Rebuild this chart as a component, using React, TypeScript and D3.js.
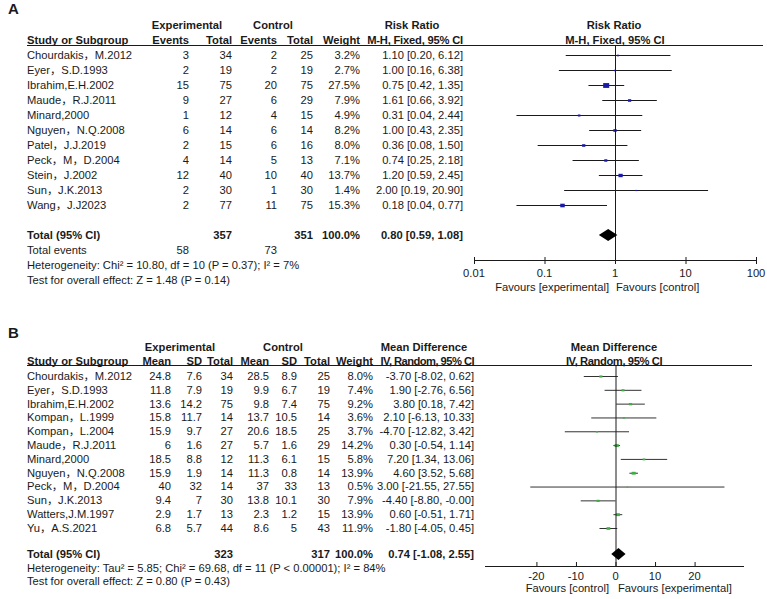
import React from "react";
import * as d3 from "d3";

// ---- Panel A: risk ratio data ----
const studiesA = [
  "Chourdakis，M.2012",
  "Eyer，S.D.1993",
  "Ibrahim,E.H.2002",
  "Maude，R.J.2011",
  "Minard,2000",
  "Nguyen，N.Q.2008",
  "Patel，J.J.2019",
  "Peck，M，D.2004",
  "Stein，J.2002",
  "Sun，J.K.2013",
  "Wang，J.J2023",
];
const expEventsA = [3, 2, 15, 9, 1, 6, 2, 4, 12, 2, 2];
const expTotalA = [34, 19, 75, 27, 12, 14, 15, 14, 40, 30, 77];
const ctrlEventsA = [2, 2, 20, 6, 4, 6, 6, 5, 10, 1, 11];
const ctrlTotalA = [25, 19, 75, 29, 15, 14, 16, 13, 40, 30, 75];
const weightA = [3.2, 2.7, 27.5, 7.9, 4.9, 8.2, 8.0, 7.1, 13.7, 1.4, 15.3];
const rrA = [1.1, 1.0, 0.75, 1.61, 0.31, 1.0, 0.36, 0.74, 1.2, 2.0, 0.18];
const rrLowA = [0.2, 0.16, 0.42, 0.66, 0.04, 0.43, 0.08, 0.25, 0.59, 0.19, 0.04];
const rrHighA = [6.12, 6.38, 1.35, 3.92, 2.44, 2.35, 1.5, 2.18, 2.45, 20.9, 0.77];
const totalA = { exp: 357, ctrl: 351, eventsExp: 58, eventsCtrl: 73, rr: 0.8, low: 0.59, high: 1.08 };
const ticksA = [0.01, 0.1, 1, 10, 100];

// ---- Panel B: mean difference data ----
const studiesB = [
  "Chourdakis，M.2012",
  "Eyer，S.D.1993",
  "Ibrahim,E.H.2002",
  "Kompan，L.1999",
  "Kompan，L.2004",
  "Maude，R.J.2011",
  "Minard,2000",
  "Nguyen，N.Q.2008",
  "Peck，M，D.2004",
  "Sun，J.K.2013",
  "Watters,J.M.1997",
  "Yu，A.S.2021",
];
const expMeanB = [24.8, 11.8, 13.6, 15.8, 15.9, 6, 18.5, 15.9, 40, 9.4, 2.9, 6.8];
const expSdB = [7.6, 7.9, 14.2, 11.7, 9.7, 1.6, 8.8, 1.9, 32, 7, 1.7, 5.7];
const expTotalB = [34, 19, 75, 14, 27, 27, 12, 14, 14, 30, 13, 44];
const ctrlMeanB = [28.5, 9.9, 9.8, 13.7, 20.6, 5.7, 11.3, 11.3, 37, 13.8, 2.3, 8.6];
const ctrlSdB = [8.9, 6.7, 7.4, 10.5, 18.5, 1.6, 6.1, 0.8, 33, 10.1, 1.2, 5];
const ctrlTotalB = [25, 19, 75, 14, 25, 29, 15, 14, 13, 30, 15, 43];
const weightB = [8.0, 7.4, 9.2, 3.6, 3.7, 14.2, 5.8, 13.9, 0.5, 7.9, 13.9, 11.9];
const mdB = [-3.7, 1.9, 3.8, 2.1, -4.7, 0.3, 7.2, 4.6, 3.0, -4.4, 0.6, -1.8];
const mdLowB = [-8.02, -2.76, 0.18, -6.13, -12.82, -0.54, 1.34, 3.52, -21.55, -8.8, -0.51, -4.05];
const mdHighB = [0.62, 6.56, 7.42, 10.33, 3.42, 1.14, 13.06, 5.68, 27.55, -0.0, 1.71, 0.45];
const totalB = { exp: 323, ctrl: 317, md: 0.74, low: -1.08, high: 2.55 };
const ticksB = [-20, -10, 0, 10, 20];

const FONT = "'Liberation Sans', Arial, 'Noto Sans CJK SC', sans-serif";
const INK = "#1a1a1a";
const BLUE = "#1a1aa6";
const GREEN = "#3cb043";

const f2 = (v: number) => (Object.is(v, -0) ? "-0.00" : v.toFixed(2));
const ci = (e: number, l: number, h: number) => `${f2(e)} [${f2(l)}, ${f2(h)}]`;

const T = (props: any) => (
  <text fontFamily={FONT} fontSize={11.2} fill={INK} dy="0.35em" {...props} />
);

const diamond = (x: (v: number) => number, y: number, l: number, m: number, h: number) =>
  `M${x(l)},${y} L${x(m)},${y - 6} L${x(h)},${y} L${x(m)},${y + 6} Z`;

function PanelA() {
  const y = d3.scalePoint<string>().domain(studiesA).range([55, 205]);
  const x = d3.scaleLog().domain([0.01, 100]).range([474, 756]);
  const side = (w: number) => Math.max(1.5, 1.15 * Math.sqrt(w));
  const yTot = 235;
  const yAxis = 260;
  return (
    <g>
      <T x={8} y={9} fontSize={15} fontWeight="bold">A</T>
      <T x={187} y={25} textAnchor="middle" fontWeight="bold">Experimental</T>
      <T x={273} y={25} textAnchor="middle" fontWeight="bold">Control</T>
      <T x={412} y={25} textAnchor="middle" fontWeight="bold">Risk Ratio</T>
      <T x={614} y={25} textAnchor="middle" fontWeight="bold">Risk Ratio</T>
      <T x={27} y={40} fontWeight="bold">Study or Subgroup</T>
      <T x={189} y={40} textAnchor="end" fontWeight="bold">Events</T>
      <T x={232} y={40} textAnchor="end" fontWeight="bold">Total</T>
      <T x={277} y={40} textAnchor="end" fontWeight="bold">Events</T>
      <T x={313} y={40} textAnchor="end" fontWeight="bold">Total</T>
      <T x={360} y={40} textAnchor="end" fontWeight="bold">Weight</T>
      <T x={463} y={40} textAnchor="end" fontWeight="bold" letterSpacing={-0.2}>M-H, Fixed, 95% CI</T>
      <T x={615} y={40} textAnchor="middle" fontWeight="bold">M-H, Fixed, 95% CI</T>
      <line x1={27} x2={763} y1={45.5} y2={45.5} stroke={INK} />
      {studiesA.map((s, i) => {
        const yy = y(s)!;
        const sz = side(weightA[i]);
        return (
          <g key={s}>
            <T x={27} y={yy}>{s}</T>
            <T x={189} y={yy} textAnchor="end">{expEventsA[i]}</T>
            <T x={232} y={yy} textAnchor="end">{expTotalA[i]}</T>
            <T x={277} y={yy} textAnchor="end">{ctrlEventsA[i]}</T>
            <T x={313} y={yy} textAnchor="end">{ctrlTotalA[i]}</T>
            <T x={360} y={yy} textAnchor="end">{weightA[i].toFixed(1)}%</T>
            <T x={463} y={yy} textAnchor="end">{ci(rrA[i], rrLowA[i], rrHighA[i])}</T>
            <line x1={x(rrLowA[i])} x2={x(rrHighA[i])} y1={yy + 0.5} y2={yy + 0.5} stroke={INK} />
            <rect x={x(rrA[i]) - sz / 2} y={yy + 0.5 - sz * 0.4} width={sz} height={sz * 0.8} fill={BLUE} />
          </g>
        );
      })}
      <T x={27} y={yTot} fontWeight="bold">Total (95% CI)</T>
      <T x={232} y={yTot} textAnchor="end" fontWeight="bold">{totalA.exp}</T>
      <T x={313} y={yTot} textAnchor="end" fontWeight="bold">{totalA.ctrl}</T>
      <T x={360} y={yTot} textAnchor="end" fontWeight="bold">100.0%</T>
      <T x={463} y={yTot} textAnchor="end" fontWeight="bold">{ci(totalA.rr, totalA.low, totalA.high)}</T>
      <T x={27} y={250}>Total events</T>
      <T x={189} y={250} textAnchor="end">{totalA.eventsExp}</T>
      <T x={277} y={250} textAnchor="end">{totalA.eventsCtrl}</T>
      <T x={27} y={265}>Heterogeneity: Chi² = 10.80, df = 10 (P = 0.37); I² = 7%</T>
      <T x={27} y={280}>Test for overall effect: Z = 1.48 (P = 0.14)</T>
      <line x1={x(1) + 0.5} x2={x(1) + 0.5} y1={46} y2={yAxis} stroke={INK} />
      <path d={diamond(x, yTot, totalA.low, totalA.rr, totalA.high)} fill="#000" />
      <line x1={x(0.01)} x2={x(100)} y1={yAxis + 0.5} y2={yAxis + 0.5} stroke={INK} />
      {ticksA.map((t) => (
        <g key={t}>
          <line x1={x(t) + 0.5} x2={x(t) + 0.5} y1={yAxis - 3} y2={yAxis + 4} stroke={INK} />
          <T x={x(t)} y={yAxis + 13} textAnchor="middle">{String(t)}</T>
        </g>
      ))}
      <T x={609} y={287} textAnchor="end">Favours [experimental]</T>
      <T x={616} y={287}>Favours [control]</T>
    </g>
  );
}

function PanelB() {
  const y = d3.scalePoint<string>().domain(studiesB).range([376, 528]);
  const x = d3.scaleLinear().domain([-33, 33]).range([485, 746]);
  const side = (w: number) => Math.max(1.5, 1.1 * Math.sqrt(w));
  const yTot = 554;
  const yAxis = 566;
  const cols: [number[], number][] = [
    [expMeanB, 171],
    [expSdB, 202],
    [expTotalB, 233],
    [ctrlMeanB, 269],
    [ctrlSdB, 297],
    [ctrlTotalB, 330],
  ];
  return (
    <g>
      <T x={8} y={333} fontSize={15} fontWeight="bold">B</T>
      <T x={180} y={347} textAnchor="middle" fontWeight="bold">Experimental</T>
      <T x={283} y={347} textAnchor="middle" fontWeight="bold">Control</T>
      <T x={424} y={347} textAnchor="middle" fontWeight="bold">Mean Difference</T>
      <T x={614} y={347} textAnchor="middle" fontWeight="bold">Mean Difference</T>
      <T x={27} y={361} fontWeight="bold">Study or Subgroup</T>
      <T x={171} y={361} textAnchor="end" fontWeight="bold">Mean</T>
      <T x={202} y={361} textAnchor="end" fontWeight="bold">SD</T>
      <T x={233} y={361} textAnchor="end" fontWeight="bold">Total</T>
      <T x={269} y={361} textAnchor="end" fontWeight="bold">Mean</T>
      <T x={297} y={361} textAnchor="end" fontWeight="bold">SD</T>
      <T x={330} y={361} textAnchor="end" fontWeight="bold">Total</T>
      <T x={373} y={361} textAnchor="end" fontWeight="bold">Weight</T>
      <T x={474} y={361} textAnchor="end" fontWeight="bold" letterSpacing={-0.55}>IV, Random, 95% CI</T>
      <T x={614} y={361} textAnchor="middle" fontWeight="bold" letterSpacing={-0.4}>IV, Random, 95% CI</T>
      <line x1={27} x2={752} y1={365.5} y2={365.5} stroke={INK} />
      {studiesB.map((s, i) => {
        const yy = y(s)!;
        const sz = side(weightB[i]);
        return (
          <g key={s}>
            <T x={27} y={yy}>{s}</T>
            {cols.map(([arr, cx], k) => (
              <T key={k} x={cx} y={yy} textAnchor="end">{String(arr[i])}</T>
            ))}
            <T x={373} y={yy} textAnchor="end">{weightB[i].toFixed(1)}%</T>
            <T x={474} y={yy} textAnchor="end">{ci(mdB[i], mdLowB[i], mdHighB[i])}</T>
            <line x1={x(mdLowB[i])} x2={x(mdHighB[i])} y1={yy + 0.5} y2={yy + 0.5} stroke="#333" />
            <rect x={x(mdB[i]) - sz / 2} y={yy + 0.5 - sz * 0.35} width={sz} height={sz * 0.7} fill={GREEN} />
          </g>
        );
      })}
      <T x={27} y={yTot} fontWeight="bold">Total (95% CI)</T>
      <T x={233} y={yTot} textAnchor="end" fontWeight="bold">{totalB.exp}</T>
      <T x={330} y={yTot} textAnchor="end" fontWeight="bold">{totalB.ctrl}</T>
      <T x={373} y={yTot} textAnchor="end" fontWeight="bold">100.0%</T>
      <T x={474} y={yTot} textAnchor="end" fontWeight="bold">{ci(totalB.md, totalB.low, totalB.high)}</T>
      <T x={27} y={568}>Heterogeneity: Tau² = 5.85; Chi² = 69.68, df = 11 (P &lt; 0.00001); I² = 84%</T>
      <T x={27} y={581}>Test for overall effect: Z = 0.80 (P = 0.43)</T>
      <line x1={x(0) + 0.5} x2={x(0) + 0.5} y1={366} y2={yAxis} stroke={INK} />
      <path d={diamond(x, yTot, totalB.low, totalB.md, totalB.high)} fill="#000" />
      <line x1={485} x2={744} y1={yAxis + 0.5} y2={yAxis + 0.5} stroke={INK} />
      {ticksB.map((t) => (
        <g key={t}>
          <line x1={x(t) + 0.5} x2={x(t) + 0.5} y1={yAxis - 4} y2={yAxis} stroke={INK} />
          <T x={x(t)} y={yAxis + 10} textAnchor="middle">{String(t)}</T>
        </g>
      ))}
      <T x={609} y={588} textAnchor="end">Favours [control]</T>
      <T x={618} y={588}>Favours [experimental]</T>
    </g>
  );
}

export default function App() {
  return (
    <svg
      width={767}
      height={599}
      style={{ position: "absolute", left: 0, top: 0, background: "#fff" }}
    >
      <PanelA />
      <PanelB />
    </svg>
  );
}
